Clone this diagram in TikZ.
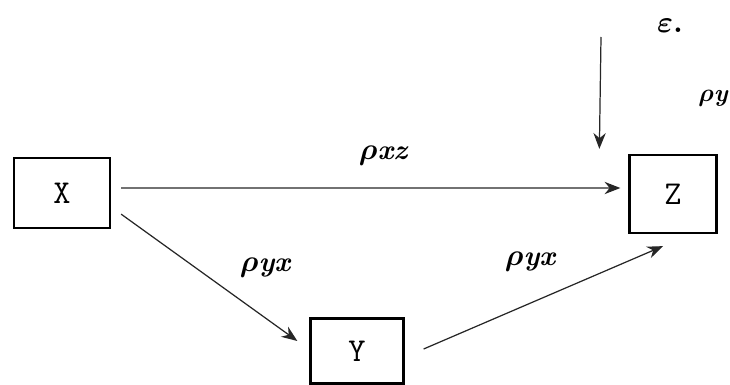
\documentclass[tikz,border=0pt]{standalone}
\usepackage{fontspec}
\usepackage{amsmath,amssymb,bm}
\usetikzlibrary{arrows.meta,positioning,calc}

\begin{document}
\begin{tikzpicture}[x=0.02cm, y=-0.02cm,
  var/.style={draw=black, line width=1.3pt, fill=white, rectangle,
    align=center, font=\ttfamily\fontsize{19}{21}\selectfont},
  lbl/.style={font=\fontsize{16}{18}\selectfont\bfseries\itshape, inner sep=1pt},
  ar/.style={-{Stealth[length=9pt,width=7pt]}, line width=0.7pt, draw=black!85},
]
\useasboundingbox (0,0) rectangle (730,385);

%==== Kotak variabel ====
\node[var, minimum width=1.92cm, minimum height=1.40cm] (X) at (62,193)  {X};
\node[var, minimum width=1.74cm, minimum height=1.56cm] (Z) at (673,194) {Z};
\node[var, minimum width=1.86cm, minimum height=1.30cm] (Y) at (357,351) {Y};

%==== Panah jalur ====
\draw[ar, shorten <=0.2cm, shorten >=0.16cm] ([yshift=0.1cm]X.east) -- ([yshift=0.12cm]Z.west);
\draw[ar] ($(X.south east)+(10,-15)$) -- ($(Y.west)+(-12,-10)$);
\draw[ar] ($(Y.east)+(19,-2)$) -- ($(Z.south)+(-10,12)$);
\coordinate (e0) at (601,37);
\draw[ar] (e0) -- ($(Z.north west)+(-29,-5)$);

%==== Label koefisien ====
\node[lbl] (pxz) at (383,156) {$\bm{\rho}$xz};
\node[lbl] (pyx1) at (265,268) {$\bm{\rho}$yx};
\node[lbl] (pyx2) at (530,262) {$\bm{\rho}$yx};
\node[font=\fontsize{18}{20}\selectfont\bfseries] (eps) at (670,26) {$\bm{\varepsilon}$.};
\node[lbl, font=\fontsize{14}{16}\selectfont\bfseries\itshape] (py) at (713,98) {$\bm{\rho}$y};

\end{tikzpicture}
\end{document}
